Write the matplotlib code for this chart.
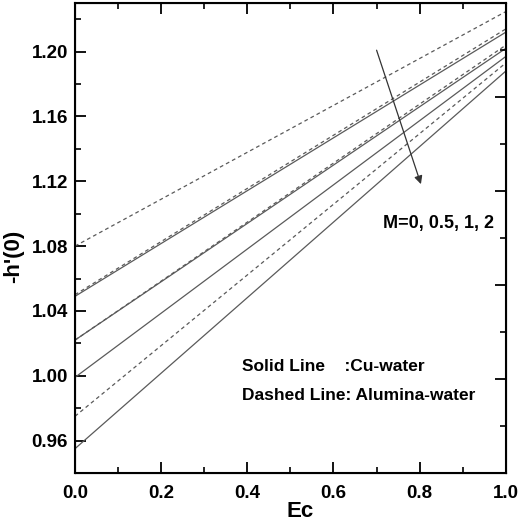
import matplotlib.pyplot as plt
from matplotlib.ticker import MultipleLocator

plt.rcParams['font.family'] = ['Liberation Sans', 'DejaVu Sans']
plt.rcParams['font.weight'] = 'bold'

# Ec values and -h'(0) for M = 0, 0.5, 1, 2
ec = [0.0, 1.0]
cu_water = [
    [1.049, 1.212],
    [1.022, 1.202],
    [0.999, 1.197],
    [0.955, 1.188],
]
alumina_water = [
    [1.080, 1.2247],
    [1.050, 1.214],
    [1.022, 1.204],
    [0.975, 1.193],
]

fig = plt.figure(figsize=(5.22, 5.26), dpi=100)
ax = fig.add_axes([0.1437, 0.1008, 0.8253, 0.8935])

for ys in cu_water:
    ax.plot(ec, ys, color='#5a5a5a', lw=0.9, ls='-')
for ys in alumina_water:
    ax.plot(ec, ys, color='#5a5a5a', lw=0.9, ls=(0, (3, 2.5)))

ax.set_xlim(0, 1.0)
ax.set_ylim(0.94, 1.23)
ax.xaxis.set_major_locator(MultipleLocator(0.2))
ax.xaxis.set_minor_locator(MultipleLocator(0.1))
ax.yaxis.set_major_locator(MultipleLocator(0.04))
ax.yaxis.set_minor_locator(MultipleLocator(0.02))
ax.xaxis.set_major_formatter(plt.FormatStrFormatter('%.1f'))
ax.yaxis.set_major_formatter(plt.FormatStrFormatter('%.2f'))
ax.tick_params(which='major', direction='in', length=8, width=1.3, top=True, right=False,
               labelsize=13.5)
ax.tick_params(axis='x', which='major', pad=9)
ax.tick_params(axis='y', which='major', pad=5)
ax.tick_params(which='minor', direction='in', length=4, width=1.2, top=True, right=False)
for sp in ax.spines.values():
    sp.set_linewidth(1.5)

# right axis has its own tick spacing
ax2 = ax.twinx()
ax2.set_ylim(0, 5)
ax2.yaxis.set_major_locator(MultipleLocator(1))
ax2.yaxis.set_minor_locator(MultipleLocator(0.5))
ax2.tick_params(which='major', direction='in', length=8, width=1.3, labelright=False)
ax2.tick_params(which='minor', direction='in', length=4, width=1.2)

ax.set_xlabel('Ec', fontsize=16, fontweight='bold')
ax.xaxis.set_label_coords(0.522, -0.06)
ax.set_ylabel("-h'(0)", fontsize=16, fontweight='bold')
ax.yaxis.set_label_coords(-0.118, 0.46)

ax.annotate('', xy=(0.805, 1.1166), xytext=(0.698, 1.2025),
            arrowprops=dict(arrowstyle='-|>', color='#333333', lw=0.9,
                            mutation_scale=12))
ax.text(0.715, 1.094, 'M=0, 0.5, 1, 2', fontsize=13, fontweight='bold', va='center')
ax.text(0.387, 1.006, 'Solid Line    :Cu-water', fontsize=12.5, fontweight='bold', va='center')
ax.text(0.387, 0.988, 'Dashed Line: Alumina-water', fontsize=12.5, fontweight='bold', va='center')

fig.savefig('out.png', dpi=100)
